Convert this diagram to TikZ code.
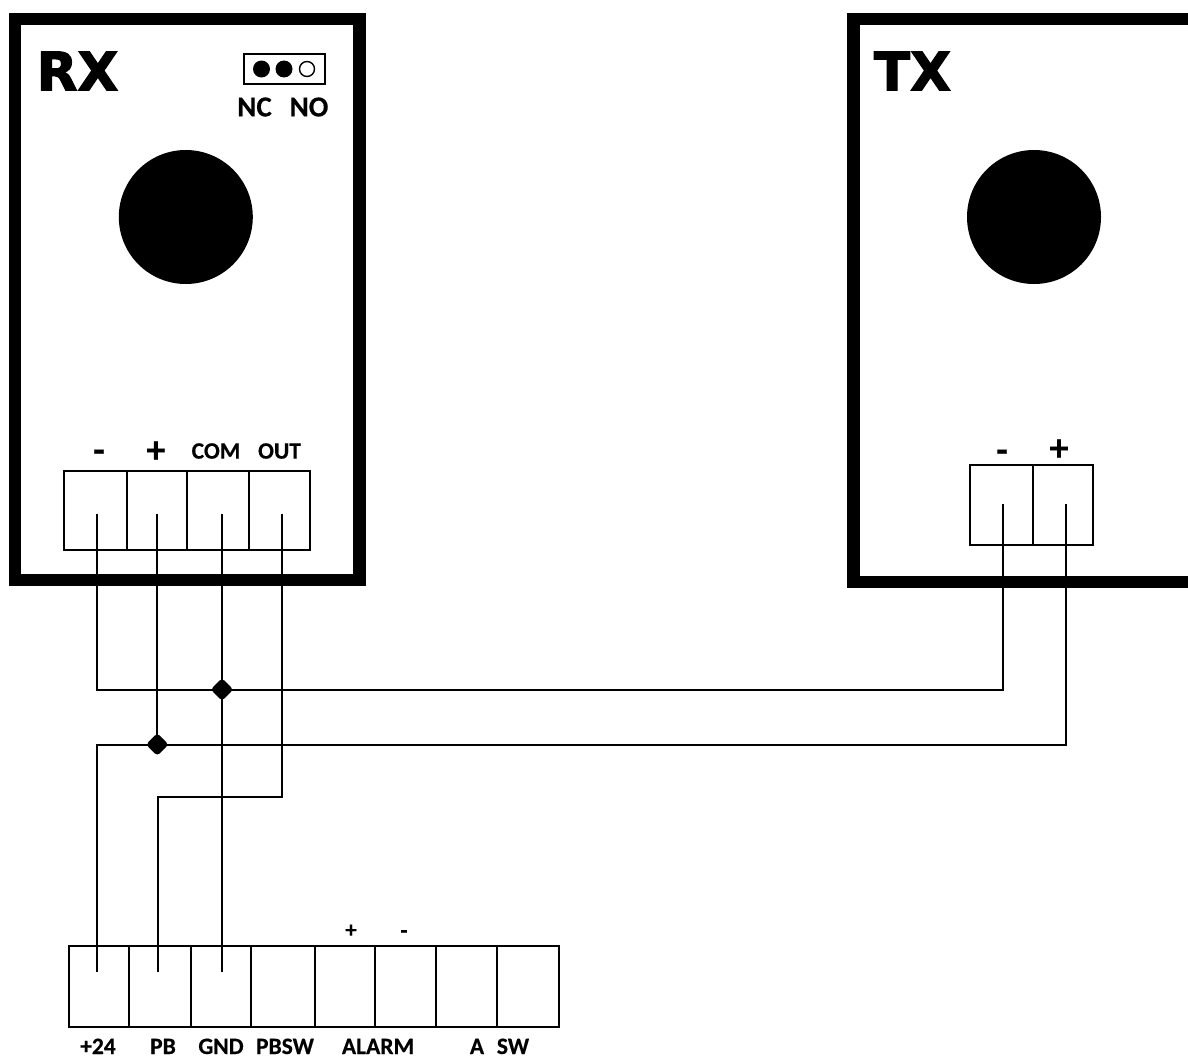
\documentclass[tikz,border=0pt]{standalone}
\usepackage{fontspec}
\usetikzlibrary{shapes.geometric}
\setmainfont{Carlito}[BoldFont=Carlito Bold,BoldFeatures={FakeBold=0.35}]
\newfontfamily\bigfont{DejaVu Sans}[BoldFont=DejaVu Sans Bold,BoldFeatures={FakeBold=2.2}]
\tikzset{
  frame/.style={draw=black,line width=12.3pt,fill=white,inner sep=0pt,outer sep=0pt,miter limit=10},
  cell/.style={draw=black,line width=2pt,inner sep=0pt,outer sep=0pt},
  wire/.style={draw=black,line width=2pt},
  lens/.style={circle,fill=black,inner sep=0pt,minimum size=134pt},
  dot/.style={diamond,aspect=1,fill=black,inner sep=0pt,minimum size=23pt,rounded corners=3.5pt},
  pin/.style={circle,fill=black,inner sep=0pt,minimum size=17pt},
  openpin/.style={circle,draw=black,line width=1.4pt,fill=white,inner sep=0pt,minimum size=15pt},
  title/.style={inner sep=0pt,font=\bigfont\bfseries\fontsize{53}{53}\selectfont},
  lab/.style={inner sep=0pt,font=\bfseries\fontsize{23.5}{23.5}\selectfont},
  jumplab/.style={inner sep=0pt,font=\bfseries\fontsize{29}{29}\selectfont},
  sign/.style={inner sep=0pt,font=\bfseries\fontsize{38}{38}\selectfont},
  smallsign/.style={inner sep=0pt,font=\bfseries\fontsize{23}{23}\selectfont},
}
\begin{document}
\begin{tikzpicture}[x=1pt,y=-1pt]
\useasboundingbox (0,0) rectangle (1188,1057);
% housings
\node[frame,minimum width=344.5pt,minimum height=561pt] (rx) at (187.25,299.5) {};
\draw[black,line width=12.3pt,miter limit=10] (1188,19) -- (853.6,19) -- (853.6,582) -- (1188,582);
\node[title] (rxt) at (77.5,71) {RX};
\node[title] (txt) at (912.5,71) {TX};
\node[lens] (rxl) at (185.8,217) {};
\node[lens] (txl) at (1034,217) {};
% jumper
\node[cell,line width=1.8pt,minimum width=81pt,minimum height=30pt] (jp) at (284.3,68.7) {};
\node[pin] (p1) at (261.5,69) {};
\node[pin] (p2) at (284,69) {};
\node[openpin] (p3) at (307,69) {};
\node[jumplab] (nc) at (254.5,107) {NC};
\node[jumplab] (no) at (309,107) {NO};
% RX terminals
\node[cell,minimum width=62.7pt,minimum height=79pt] (r1) at (95.7,510) {};
\node[cell,minimum width=60.3pt,minimum height=79pt] (r2) at (157.2,510) {};
\node[cell,minimum width=62pt,minimum height=79pt] (r3) at (218.3,510) {};
\node[cell,minimum width=60.4pt,minimum height=79pt] (r4) at (279.5,510) {};
\node[sign] (rm) at (99,456) {-};
\node[sign] (rp) at (156,452) {+};
\node[lab] (rc) at (216,451) {COM};
\node[lab] (ro) at (279.5,451) {OUT};
% TX terminals
\node[cell,minimum width=63pt,minimum height=80.3pt] (t1) at (1001.8,505.2) {};
\node[cell,minimum width=60pt,minimum height=80.3pt] (t2) at (1063.3,505.2) {};
\node[sign] (tm) at (1002,456) {-};
\node[sign] (tp) at (1059,450) {+};
% board terminals
\node[cell,minimum width=60pt,minimum height=81pt] (b1) at (99,986.5) {};
\node[cell,minimum width=62pt,minimum height=81pt] (b2) at (160,986.5) {};
\node[cell,minimum width=60pt,minimum height=81pt] (b3) at (221,986.5) {};
\node[cell,minimum width=64pt,minimum height=81pt] (b4) at (283,986.5) {};
\node[cell,minimum width=60pt,minimum height=81pt] (b5) at (345,986.5) {};
\node[cell,minimum width=61pt,minimum height=81pt] (b6) at (405.5,986.5) {};
\node[cell,minimum width=61pt,minimum height=81pt] (b7) at (466.5,986.5) {};
\node[cell,minimum width=62pt,minimum height=81pt] (b8) at (528,986.5) {};
\node[smallsign] (ap) at (351,931) {+};
\node[smallsign] (am) at (404,934) {-};
\node[lab,anchor=base] (l1) at (98,1054) {+24};
\node[lab,anchor=base] (l2) at (163,1054) {PB};
\node[lab,anchor=base] (l3) at (221,1054) {GND};
\node[lab,anchor=base] (l4) at (285,1054) {PBSW};
\node[lab,anchor=base] (l5) at (378,1054) {ALARM};
\node[lab,anchor=base] (l6) at (477,1054) {A};
\node[lab,anchor=base] (l7) at (513,1054) {SW};
% junctions and wire ends
\node[dot] (ja) at (222,689.5) {};
\node[dot] (jb) at (157.3,744.5) {};
\coordinate (e1) at (97.3,514);
\coordinate (e2) at (157.3,514);
\coordinate (e3) at (222,514);
\coordinate (e4) at (282,514);
\coordinate (f1) at (1003.3,504);
\coordinate (f2) at (1065.7,504);
\coordinate (g1) at (97,972);
\coordinate (g2) at (158,972);
\coordinate (g3) at (222,972);
\coordinate (m4) at (282,797);
% wires
\draw[wire] (e1) |- (ja.center) -| (f1);
\draw[wire] (e2) -- (jb.center);
\draw[wire] (jb.center) -| (f2);
\draw[wire] (jb.center) -| (g1);
\draw[wire] (e3) -- (g3);
\draw[wire] (e4) -- (m4) -| (g2);
\end{tikzpicture}
\end{document}
